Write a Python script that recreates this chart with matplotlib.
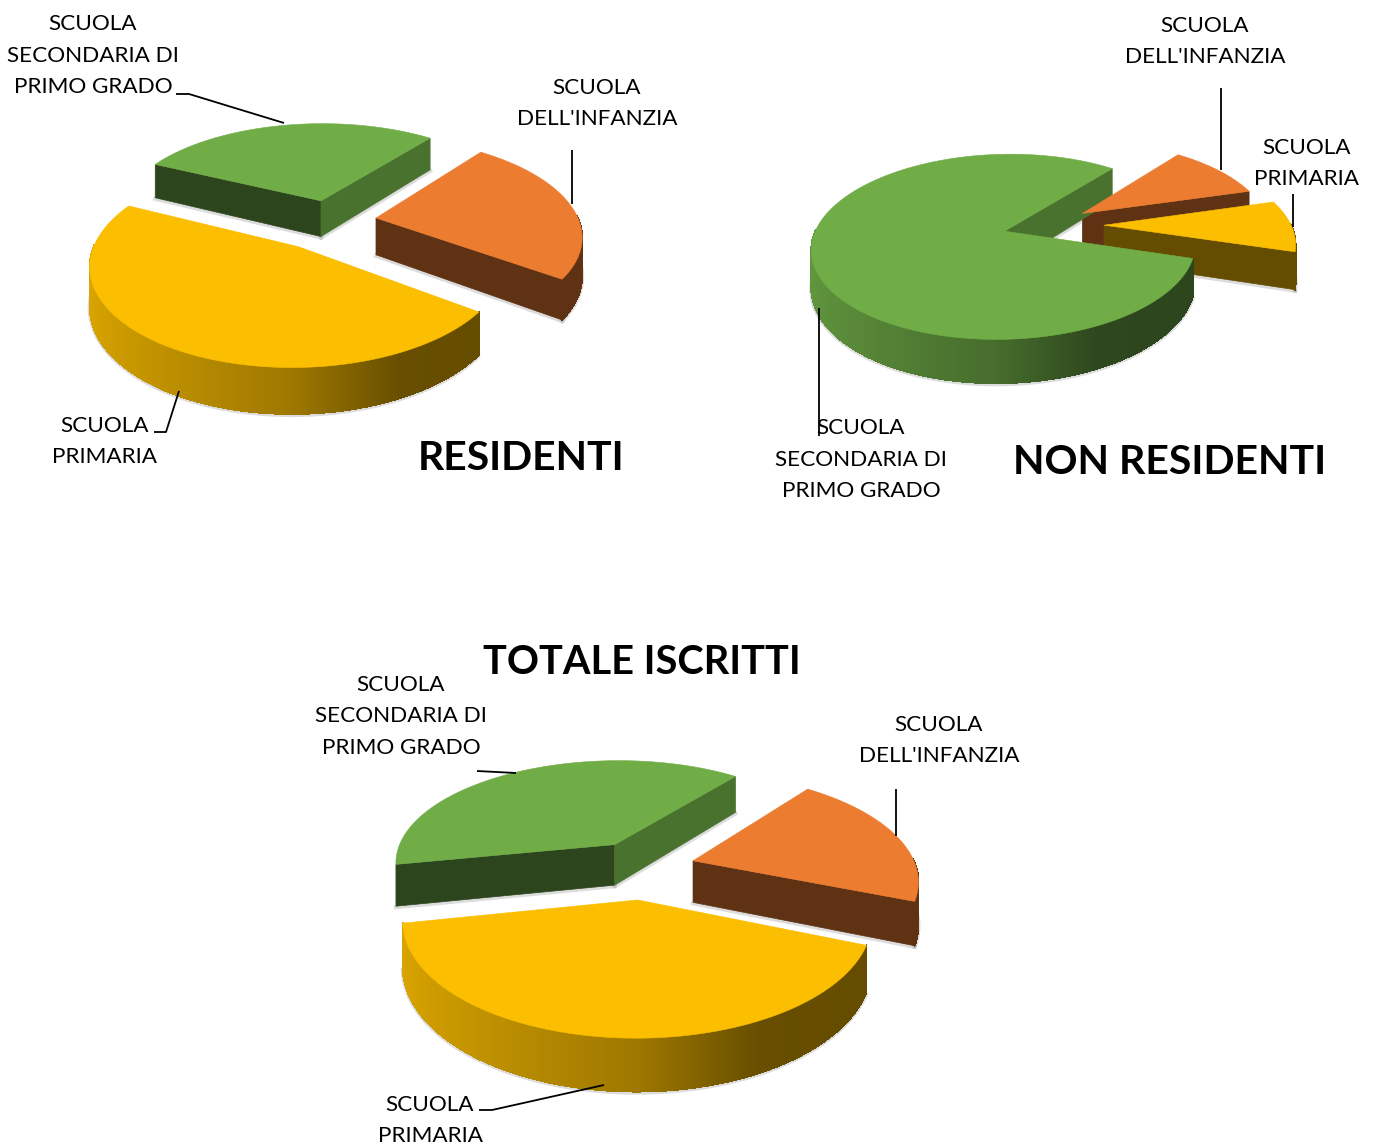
import numpy as np
import matplotlib
matplotlib.use('Agg')
import matplotlib.pyplot as plt
from matplotlib.collections import PolyCollection
from matplotlib.patches import Polygon

# --- datos (porcentajes) ---
gradi = ['infanzia', 'primaria', 'secondaria']
residenti = [24.4, 47.2, 28.4]
non_residenti = [10, 9.1, 80.9]
totale = [20.5, 40.8, 38.7]

colori = {'infanzia': (235, 124, 48), 'primaria': (251, 190, 0), 'secondaria': (112, 173, 71)}

# --- layout: perspectiva y angulo inicial ---
K = 1 / 6
INICIO = 52


def shade(rgb, f):
    return tuple(c * f / 255 for c in rgb)


def rim_factor(cx):
    return np.interp(cx, [-1, 0, 0.45, 1], [0.87, 0.63, 0.41, 0.40])


def pie3d(ax, valores, x0, y0, R, tilt, alto, explode, escala):
    def proj(x, y, z=0.0):
        s = 1 / (1 + K * y)
        return x0 + R * x * s, y0 - R * tilt * y * s + alto * z * s

    angs = INICIO - np.cumsum([0] + list(valores)) * 3.6
    sectores = []
    for i, g in enumerate(gradi):
        a, b = np.radians(angs[i]), np.radians(angs[i + 1])
        mid = (a + b) / 2
        sectores.append((g, a, b, explode[i] * np.cos(mid), explode[i] * np.sin(mid), escala[i]))
    # primero los de atras
    sectores.sort(key=lambda q: -q[4])

    for g, a, b, ox, oy, rr in sectores:
        col = colori[g]
        t = np.linspace(a, b, 320)
        ex, ey = ox + rr * np.cos(t), oy + rr * np.sin(t)
        z0 = 2

        # paredes de corte
        for ang, nsign in ((a, -1), (b, 1)):
            nx, ny = np.sin(ang) * nsign, -np.cos(ang) * nsign
            # visible solo si la normal mira hacia el observador
            if ny < 0.05:
                px, py = ox + rr * np.cos(ang), oy + rr * np.sin(ang)
                pts = [proj(ox, oy), proj(px, py), proj(px, py, 1), proj(ox, oy, 1)]
                f = 0.66 if nx > 0.6 else 0.40
                ax.add_patch(Polygon(pts, closed=True, fc=shade(col, f), ec=shade(col, f), lw=0.5, zorder=z0))
                sx, sy = zip(pts[2], pts[3])
                ax.plot(sx, np.array(sy) + 1, color='0.55', alpha=0.3, lw=3, zorder=1)

        # borde exterior con degradado
        quads, cols, cosenos = [], [], []
        for j in range(len(t) - 1):
            if np.sin((t[j] + t[j + 1]) / 2) > 0.02:
                continue
            quads.append([proj(ex[j], ey[j]), proj(ex[j + 1], ey[j + 1]),
                          proj(ex[j + 1], ey[j + 1], 1), proj(ex[j], ey[j], 1)])
            cols.append(shade(col, rim_factor(np.cos(t[j]))))
            cosenos.append(np.cos(t[j]))
        # un trozo minimo a la izquierda queda tapado por la pared
        frente = len(quads) * abs(b - a) / 319
        if quads and not (frente < np.radians(20) and np.mean(cosenos) < 0):
            ax.add_collection(PolyCollection(quads, facecolors=cols, edgecolors=cols, linewidths=0.6,
                                             antialiaseds=False, zorder=z0))
            fondo = np.array([q[2] for q in quads])
            ax.plot(fondo[:, 0], fondo[:, 1] + 1, color='0.55', alpha=0.3, lw=3, zorder=1)

        # tapa
        px, py = proj(np.r_[ox, ex], np.r_[oy, ey])
        ax.add_patch(Polygon(np.c_[px, py], closed=True, fc=shade(col, 1), ec=shade(col, 1), lw=0.4, zorder=3))


fig = plt.figure(figsize=(13.79, 11.46), dpi=100, facecolor='white')
ax = fig.add_axes([0, 0, 1, 1])
ax.set_xlim(0, 1379)
ax.set_ylim(1146, 0)
ax.axis('off')
plt.rcParams['font.family'] = ['Lato', 'DejaVu Sans']

pie3d(ax, residenti, 331, 221, 203, 0.47, 37, [0.225, 0.30, 0.225], [1, 0.965, 1.01])
pie3d(ax, non_residenti, 1046, 225, 187, 0.47, 36, [0.24, 0.31, 0.23], [1, 1, 1])
pie3d(ax, totale, 644, 867, 223, 0.47, 42, [0.23, 0.30, 0.26], [1, 0.985, 1])

# --- etiquetas ---
etiquetas = [
    ("SCUOLA\nSECONDARIA DI\nPRIMO GRADO", 93, 55.5),
    ("SCUOLA\nDELL'INFANZIA", 597, 103.5),
    ("SCUOLA\nPRIMARIA", 105, 441.5),
    ("SCUOLA\nDELL'INFANZIA", 1205, 41.5),
    ("SCUOLA\nPRIMARIA", 1307, 163.5),
    ("SCUOLA\nSECONDARIA DI\nPRIMO GRADO", 861, 459.5),
    ("SCUOLA\nSECONDARIA DI\nPRIMO GRADO", 401, 716.5),
    ("SCUOLA\nDELL'INFANZIA", 939, 740.5),
    ("SCUOLA\nPRIMARIA", 430, 1120.5),
]
for txt, x, y in etiquetas:
    ax.text(x, y, txt, ha='center', va='center', fontsize=16.2, color='black', linespacing=1.74, zorder=6)

titulos = [("RESIDENTI", 521, 458, 29.4), ("NON RESIDENTI", 1170, 462, 29.5), ("TOTALE ISCRITTI", 642, 662, 28.6)]
for txt, x, y, tam in titulos:
    ax.text(x, y, txt, ha='center', va='center', fontsize=tam, fontweight='bold', color='black', zorder=6)

# --- lineas guia ---
guias = [
    ([176, 189, 284], [94, 94, 123]),
    ([572, 572], [150, 204]),
    ([154, 166, 179], [432, 432, 391]),
    ([1221, 1221], [88, 170]),
    ([1293, 1293], [194, 227]),
    ([819, 819], [308, 436]),
    ([477, 516], [771, 773]),
    ([896, 896], [789, 836]),
    ([479, 492, 604], [1110, 1110, 1085]),
]
for gx, gy in guias:
    ax.plot(gx, gy, color='black', lw=1.3, zorder=5, solid_capstyle='butt')

fig.savefig('out.png', dpi=100, facecolor='white')
